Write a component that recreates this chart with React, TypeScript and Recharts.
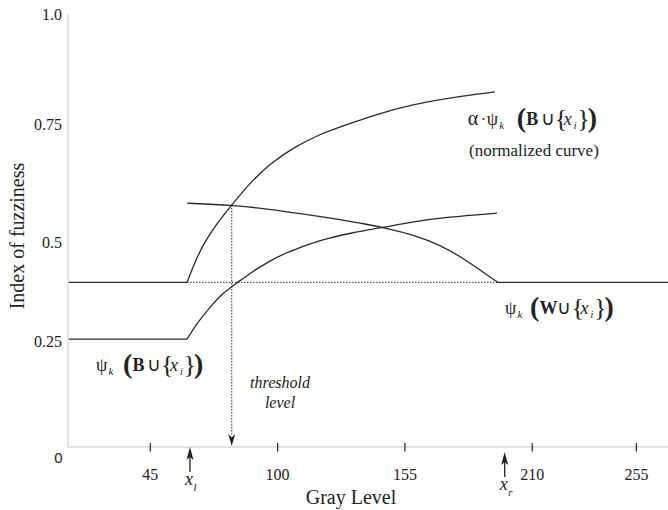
import React from "react";
import { LineChart, Line, XAxis, YAxis, ReferenceDot } from "recharts";

const SERIF = "'Liberation Serif', 'Times New Roman', serif";
const SANS = "'Liberation Sans', Arial, sans-serif";
const INK = "#222";
const CURVE = "#2a2a2a";
const DOTS = "#555";
const AXIS = "#d9d9d9";

// axes
const grayDomain = [9.45, 268.66];
const grayTicks = [45, 100, 155, 210, 255];
const fuzzTicks = [0, 0.25, 0.5, 0.75, 1];

// x_l / x_r and the two flat levels
const xl = 60.86;
const xr = 195.22;
const levelW = 0.38;
const levelB = 0.249;
const threshold = 80.17;
const thresholdTop = 0.559;

// alpha * psi_k(B u {x_i})  (normalized curve)
const alphaX = [60.86, 64.31, 67.77, 72.09, 75.98, 80.17, 88.07, 96.72, 106.65, 118.32, 131.28, 145.53, 165.84, 180.1, 193.92];
const alphaY = [0.38, 0.427, 0.467, 0.503, 0.531, 0.559, 0.61, 0.654, 0.691, 0.723, 0.747, 0.774, 0.799, 0.811, 0.82];

// psi_k(W u {x_i})
const whiteX = [60.86, 80.17, 96.72, 110.97, 122.63, 131.28, 136.9, 147.26, 158.5, 170.16, 180.1, 188.74, 195.22];
const whiteY = [0.563, 0.559, 0.549, 0.538, 0.529, 0.521, 0.516, 0.505, 0.49, 0.467, 0.436, 0.404, 0.38];

// psi_k(B u {x_i})
const blackX = [60.86, 65.18, 70.8, 76.41, 82.45, 89.37, 96.72, 104.06, 118.32, 131.28, 146.4, 158.5, 173.19, 194.79];
const blackY = [0.249, 0.286, 0.323, 0.356, 0.379, 0.406, 0.43, 0.45, 0.478, 0.494, 0.508, 0.52, 0.531, 0.54];

const zip = (xs: number[], ys: number[]) => xs.map((x, i) => ({ x, y: ys[i] }));

const alphaCurve = zip(alphaX, alphaY);
const whiteCurve = zip(whiteX, whiteY);
const blackCurve = zip(blackX, blackY);
const alphaFlat = [{ x: grayDomain[0], y: levelW }, { x: xl, y: levelW }];
const blackFlat = [{ x: grayDomain[0], y: levelB }, { x: xl, y: levelB }];
const whiteFlat = [{ x: xr, y: levelW }, { x: grayDomain[1], y: levelW }];
const levelDotted = [{ x: xl, y: levelW }, { x: xr, y: levelW }];
const thresholdDotted = [{ x: threshold, y: thresholdTop }, { x: threshold, y: 0.03 }];

const serif = { fontFamily: SERIF };

function GrayTick(props: any) {
  const { x, y, payload } = props;
  return (
    <g>
      <line x1={x} x2={x} y1={y - 4} y2={y + 4.5} stroke={INK} strokeWidth={1.2} />
      <text x={x} y={y + 33} textAnchor="middle" fontSize={16} style={serif} fill={INK}>
        {payload.value}
      </text>
    </g>
  );
}

function FuzzTick(props: any) {
  const { x, y, payload } = props;
  const v = payload.value;
  if (v === 0) {
    return (
      <text x={x - 9.5} y={y + 16} textAnchor="middle" fontSize={15} style={{ fontFamily: SANS }} fill={INK}>
        0
      </text>
    );
  }
  // the source figure prints 0.5 a little low
  const nudge = v === 0.5 ? 17 : v === 1 ? 6 : 8;
  return (
    <text x={x - 6} y={y + nudge} textAnchor="end" fontSize={16} style={serif} fill={INK}>
      {v === 1 ? "1.0" : String(v)}
    </text>
  );
}

function PsiExpr({ cx, cy, set, alpha = false, gap = 0 }: any) {
  const setW = set === "W" ? 18 : 14.5;
  const open = cx + 27 + gap;
  const letter = open + 9.5;
  const cup = letter + setW;
  const brace = cup + 14;
  const xi = brace + 9;
  return (
    <g style={serif} fill={INK}>
      {alpha && <text x={cx - 19} y={cy} fontSize={20}>α</text>}
      {alpha && <text x={cx - 6} y={cy} fontSize={16}>·</text>}
      <text x={cx} y={cy} fontSize={18}>ψ</text>
      <text x={cx + 12.5} y={cy + 4} fontSize={11} fontStyle="italic">k</text>
      <text x={open} y={cy + 2} fontSize={28} fontWeight="bold">(</text>
      <text x={letter} y={cy} fontSize={18} fontWeight="bold">{set}</text>
      <text x={cup} y={cy} fontSize={19}>∪</text>
      <text x={brace} y={cy + 2} fontSize={26}>{"{"}</text>
      <text x={xi} y={cy} fontSize={18} fontStyle="italic">x</text>
      <text x={xi + 10} y={cy + 4} fontSize={10} fontStyle="italic">i</text>
      <text x={xi + 13.5} y={cy + 2} fontSize={26}>{"}"}</text>
      <text x={xi + 24} y={cy + 2} fontSize={28} fontWeight="bold">)</text>
    </g>
  );
}

function UpArrow({ cx, cy, sub, drop = 0 }: any) {
  const t = cy + drop;
  return (
    <g>
      <line x1={cx} x2={cx} y1={t + 8} y2={t + 25} stroke={INK} strokeWidth={1.3} />
      <path d={`M${cx},${t} L${cx - 3.5},${t + 13} L${cx},${t + 10} L${cx + 3.5},${t + 13} Z`} fill={INK} />
      <text x={cx - 5} y={t + 38} fontSize={18} fontStyle="italic" style={serif} fill={INK}>x</text>
      <text x={cx + 3.5} y={t + 44} fontSize={11} fontStyle="italic" style={serif} fill={INK}>{sub}</text>
    </g>
  );
}

function DownHead({ cx, cy }: any) {
  return (
    <path d={`M${cx},${cy - 1} L${cx - 3.5},${cy - 13} L${cx},${cy - 9.5} L${cx + 3.5},${cy - 13} Z`} fill={INK} />
  );
}

export default function App() {
  return (
    <div style={{ position: "absolute", left: 0, top: 0, width: 668, height: 510, background: "#fff" }}>
      <LineChart width={668} height={510} margin={{ top: 14, right: 0, bottom: 0, left: 0 }}>
        <XAxis
          type="number"
          dataKey="x"
          domain={grayDomain}
          ticks={grayTicks}
          interval={0}
          allowDataOverflow
          height={63}
          axisLine={{ stroke: AXIS, strokeWidth: 1.5 }}
          tickLine={false}
          tickSize={0}
          tickMargin={0}
          tick={<GrayTick />}
        />
        <YAxis
          type="number"
          dataKey="y"
          domain={[0, 1]}
          ticks={fuzzTicks}
          interval={0}
          allowDataOverflow
          width={68}
          axisLine={{ stroke: AXIS, strokeWidth: 1.5 }}
          tickLine={false}
          tickSize={0}
          tickMargin={0}
          tick={<FuzzTick />}
        />
        <Line data={levelDotted} dataKey="y" type="linear" stroke={DOTS} strokeWidth={1.2} strokeDasharray="1.5 1.5" dot={false} isAnimationActive={false} />
        <Line data={thresholdDotted} dataKey="y" type="linear" stroke={DOTS} strokeWidth={1.2} strokeDasharray="1.5 1.5" dot={false} isAnimationActive={false} />
        <Line data={alphaFlat} dataKey="y" type="linear" stroke={CURVE} strokeWidth={1.3} dot={false} isAnimationActive={false} />
        <Line data={blackFlat} dataKey="y" type="linear" stroke={CURVE} strokeWidth={1.3} dot={false} isAnimationActive={false} />
        <Line data={whiteFlat} dataKey="y" type="linear" stroke={CURVE} strokeWidth={1.3} dot={false} isAnimationActive={false} />
        <Line data={alphaCurve} dataKey="y" type="basis" stroke={CURVE} strokeWidth={1.3} dot={false} isAnimationActive={false} />
        <Line data={whiteCurve} dataKey="y" type="basis" stroke={CURVE} strokeWidth={1.3} dot={false} isAnimationActive={false} />
        <Line data={blackCurve} dataKey="y" type="basis" stroke={CURVE} strokeWidth={1.3} dot={false} isAnimationActive={false} />

        <ReferenceDot x={threshold} y={0} ifOverflow="visible" shape={(p: any) => <DownHead cx={p.cx} cy={p.cy} />} />
        <ReferenceDot x={62.15} y={0} ifOverflow="visible" shape={(p: any) => <UpArrow cx={p.cx} cy={p.cy} sub="l" />} />
        <ReferenceDot x={198.11} y={0} ifOverflow="visible" shape={(p: any) => <UpArrow cx={p.cx} cy={p.cy} sub="r" drop={5} />} />

        <ReferenceDot x={190.34} y={0.7436} ifOverflow="visible" shape={(p: any) => <PsiExpr cx={p.cx} cy={p.cy} set="B" alpha gap={3} />} />
        <ReferenceDot
          x={182.69}
          y={0.6721}
          ifOverflow="visible"
          shape={(p: any) => (
            <text x={p.cx} y={p.cy} fontSize={17} style={serif} fill={INK}>(normalized curve)</text>
          )}
        />
        <ReferenceDot x={198.24} y={0.3072} ifOverflow="visible" shape={(p: any) => <PsiExpr cx={p.cx} cy={p.cy} set="W" gap={-2} />} />
        <ReferenceDot x={21.55} y={0.1755} ifOverflow="visible" shape={(p: any) => <PsiExpr cx={p.cx} cy={p.cy} set="B" />} />
        <ReferenceDot
          x={101.03}
          y={0.1363}
          ifOverflow="visible"
          shape={(p: any) => (
            <g style={serif} fontSize={16} fontStyle="italic" fill={INK} textAnchor="middle">
              <text x={p.cx} y={p.cy}>threshold</text>
              <text x={p.cx} y={p.cy + 20}>level</text>
            </g>
          )}
        />
      </LineChart>
      <div
        style={{
          position: "absolute",
          left: 17,
          top: 236,
          transform: "translate(-50%, -50%) rotate(-90deg)",
          whiteSpace: "nowrap",
          fontFamily: SERIF,
          fontSize: 20,
          lineHeight: 1,
          color: INK,
        }}
      >
        Index of fuzziness
      </div>
      <div
        style={{
          position: "absolute",
          left: 351,
          top: 497,
          transform: "translate(-50%, -50%)",
          whiteSpace: "nowrap",
          fontFamily: SERIF,
          fontSize: 20,
          lineHeight: 1,
          color: INK,
        }}
      >
        Gray Level
      </div>
    </div>
  );
}
